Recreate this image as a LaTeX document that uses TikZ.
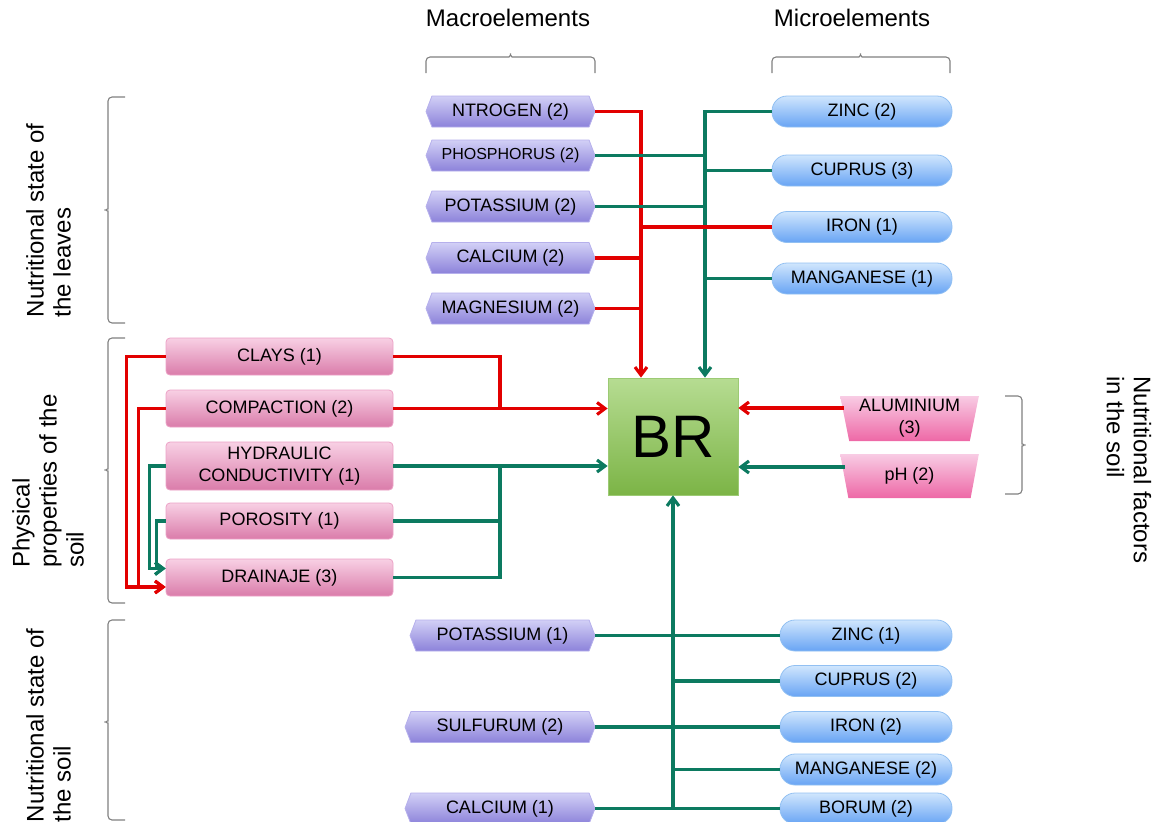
\documentclass[tikz,border=0pt]{standalone}
\usepackage{fontspec}
\setmainfont{Liberation Sans}
\usetikzlibrary{shapes.symbols,shapes.geometric,arrows.meta,calc}

\definecolor{linkred}{RGB}{226,0,0}
\definecolor{linkgreen}{RGB}{12,122,96}
\definecolor{macroT}{RGB}{210,208,246}
\definecolor{macroB}{RGB}{140,130,218}
\definecolor{macroD}{RGB}{182,176,236}
\definecolor{microT}{RGB}{208,230,253}
\definecolor{microB}{RGB}{104,164,244}
\definecolor{microD}{RGB}{146,192,242}
\definecolor{soilT}{RGB}{248,208,228}
\definecolor{soilB}{RGB}{218,124,170}
\definecolor{soilD}{RGB}{236,162,198}
\definecolor{trapT}{RGB}{248,204,228}
\definecolor{trapB}{RGB}{238,104,166}
\definecolor{brT}{RGB}{182,220,146}
\definecolor{brB}{RGB}{124,180,70}
\definecolor{brD}{RGB}{156,202,116}
\definecolor{braceC}{RGB}{128,128,128}

\begin{document}
\begin{tikzpicture}[x=1pt,y=-1pt,
  txt/.style={font=\fontsize{18}{22}\selectfont, text=black, align=center},
  macro/.style={txt, shape=signal, signal to=west and east, signal pointer angle=138,
    minimum height=31pt, inner sep=0pt, top color=macroT, bottom color=macroB,
    draw=macroD, line width=0.8pt},
  micro/.style={txt, rectangle, rounded corners=15pt, minimum height=31pt, inner sep=0pt,
    top color=microT, bottom color=microB, draw=microD, line width=0.8pt},
  soilbox/.style={txt, rectangle, rounded corners=4pt, minimum width=227pt, inner sep=0pt,
    top color=soilT, bottom color=soilB, draw=soilD, line width=0.8pt},
  trapbox/.style={txt, trapezium, trapezium left angle=101.3, trapezium right angle=101.3,
    trapezium stretches=true, minimum width=139pt, inner sep=0pt,
    top color=trapT, bottom color=trapB, draw=none},
  brbox/.style={rectangle, minimum width=130pt, minimum height=117pt, inner sep=0pt,
    top color=brT, bottom color=brB, draw=brD, line width=0.8pt,
    font=\fontsize{60}{60}\selectfont},
  heading/.style={font=\fontsize{24}{27}\selectfont, text=black, align=left, inner sep=0pt},
  brace/.style={draw=braceC, line width=1.1pt, rounded corners=4pt},
  link/.style={line width=3.1pt},
  redlink/.style={link, draw=linkred},
  greenlink/.style={link, draw=linkgreen},
  tip/.style={-{Straight Barb[length=8pt,width=12pt]}}
]
\useasboundingbox (0,0) rectangle (1165,822);
\clip (0,0) rectangle (1165,822);

% ---- headings and group labels
\node[heading] (hdmacro) at (508,18) {Macroelements};
\node[heading] (hdmicro) at (852,18) {Microelements};
\node[heading, rotate=90] (lbleaves) at (48.5,220.5) {Nutritional state of\\the leaves};
\node[heading, rotate=90] (lbphys) at (48,481) {Physical\\properties of the\\soil};
\node[heading, rotate=90] (lbsoil) at (48.5,725.5) {Nutritional state of\\the soil};
\node[heading, rotate=-90] (lbfactors) at (1129,470) {Nutritional factors\\in the soil};

% ---- braces
\draw[brace] (426,73) -- (426,57) -- (505,57) .. controls (509,57) and (510.5,55) .. (510.5,51)
  .. controls (510.5,55) and (512,57) .. (516,57) -- (595,57) -- (595,73);
\draw[brace] (772,73) -- (772,57) -- (855,57) .. controls (859,57) and (860.5,55) .. (860.5,51)
  .. controls (860.5,55) and (862,57) .. (866,57) -- (950,57) -- (950,73);
\draw[brace] (125,97) -- (108,97) -- (108,205) .. controls (108,208) and (106,210) .. (102,210)
  .. controls (106,210) and (108,212) .. (108,215) -- (108,323) -- (125,323);
\draw[brace] (125,338) -- (108,338) -- (108,465) .. controls (108,468) and (106,470) .. (102,470)
  .. controls (106,470) and (108,472) .. (108,475) -- (108,603) -- (125,603);
\draw[brace] (125,620) -- (108,620) -- (108,717) .. controls (108,720) and (106,722) .. (102,722)
  .. controls (106,722) and (108,724) .. (108,727) -- (108,820) -- (125,820);
\draw[brace] (1005,396) -- (1022,396) -- (1022,440) .. controls (1022,443) and (1024,445) .. (1028,445)
  .. controls (1024,445) and (1022,447) .. (1022,450) -- (1022,494) -- (1005,494);

% ---- centre
\node[brbox] (BR) at (673,436.5) {BR};

% ---- leaf macroelements
\node[macro, minimum width=169pt] (n1) at (510.5,111.5) {NTROGEN (2)};
\node[macro, minimum width=169pt, font=\fontsize{16}{20}\selectfont] (n2) at (510.5,155.5) {PHOSPHORUS (2)};
\node[macro, minimum width=169pt] (n3) at (510.5,206.5) {POTASSIUM (2)};
\node[macro, minimum width=169pt] (n4) at (510.5,258) {CALCIUM (2)};
\node[macro, minimum width=169pt] (n5) at (510.5,308.5) {MAGNESIUM (2)};

% ---- leaf microelements
\node[micro, minimum width=180pt] (m1) at (862,111.5) {ZINC (2)};
\node[micro, minimum width=180pt] (m2) at (862,170.5) {CUPRUS (3)};
\node[micro, minimum width=180pt] (m3) at (862,227) {IRON (1)};
\node[micro, minimum width=180pt] (m4) at (862,278.5) {MANGANESE (1)};

% ---- physical properties
\node[soilbox, minimum height=37pt] (s1) at (279.5,356.5) {CLAYS (1)};
\node[soilbox, minimum height=37pt] (s2) at (279.5,408.5) {COMPACTION (2)};
\node[soilbox, minimum height=48pt] (s3) at (279.5,466) {HYDRAULIC\\CONDUCTIVITY (1)};
\node[soilbox, minimum height=36pt] (s4) at (279.5,521) {POROSITY (1)};
\node[soilbox, minimum height=37pt] (s5) at (279.5,577.5) {DRAINAJE (3)};

% ---- soil factors
\node[trapbox, minimum height=45pt] (t1) at (909.5,418.5) {ALUMINIUM\\(3)};
\node[trapbox, minimum height=44pt] (t2) at (909.5,476) {pH (2)};

% ---- soil macroelements
\node[macro, minimum width=185pt] (b1) at (502.5,635.5) {POTASSIUM (1)};
\node[macro, minimum width=190pt] (b2) at (500,727) {SULFURUM (2)};
\node[macro, minimum width=190pt] (b3) at (500,808.5) {CALCIUM (1)};

% ---- soil microelements
\node[micro, minimum width=172pt] (c1) at (866,635.5) {ZINC (1)};
\node[micro, minimum width=172pt] (c2) at (866,681) {CUPRUS (2)};
\node[micro, minimum width=172pt] (c3) at (866,727) {IRON (2)};
\node[micro, minimum width=172pt] (c4) at (866,769.5) {MANGANESE (2)};
\node[micro, minimum width=172pt] (c5) at (866,808.5) {BORUM (2)};

% ---- bus lines
\coordinate (rbus) at (641,0);
\coordinate (gbus) at (705,0);
\coordinate (lbus) at (500,0);

% top: red bus
\draw[redlink, tip] (n1.east) -| (rbus |- BR.north);
\draw[redlink] (n4.east) -- (n4.east -| rbus);
\draw[redlink] (n5.east) -- (n5.east -| rbus);
% top: green bus
\draw[greenlink, tip] (m1.west) -| (gbus |- BR.north);
\draw[greenlink] (n2.east) -- (n2.east -| gbus);
\draw[greenlink] (n3.east) -- (n3.east -| gbus);
\draw[greenlink] (m2.west) -- (m2.west -| gbus);
\draw[greenlink] (m4.west) -- (m4.west -| gbus);
\draw[redlink] (m3.west) -- (m3.west -| rbus);

% left: physical properties
\draw[redlink] (s1.east) -| (lbus |- s2.east);
\draw[redlink, tip] (s2.east) -- (s2.east -| BR.west);
\draw[greenlink, tip] (s3.east) -- (s3.east -| BR.west);
\draw[greenlink] (s5.east) -| (lbus |- s3.east);
\draw[greenlink] (s4.east) -- (s4.east -| lbus);

\coordinate (rl) at ($(s5.west)+(0,9.5)$);
\coordinate (gl) at ($(s5.west)+(0,-9)$);
\draw[redlink, tip] (s1.west) -- ++(-39,0) |- (rl);
\draw[redlink, tip] (s2.west) -- ++(-27,0) |- (rl);
\draw[greenlink, tip] (s3.west) -- ++(-16,0) |- (gl);
\draw[greenlink, tip] (s4.west) -- ++(-9,0) |- (gl);

% right: soil factors
\coordinate (ta) at ($(t1.center)+(-66,-10.5)$);
\coordinate (tb) at ($(t2.center)+(-65,-9)$);
\draw[redlink, tip] (ta) -- (ta -| BR.east);
\draw[greenlink, tip] (tb) -- (tb -| BR.east);

% bottom: soil nutrients
\draw[greenlink] (b1.east) -- (c1.west);
\draw[greenlink] (b2.east) -- (c3.west);
\draw[greenlink] (b3.east) -- (c5.west);
\draw[greenlink] (c2.west) -- (c2.west -| BR.south);
\draw[greenlink] (c4.west) -- (c4.west -| BR.south);
\draw[greenlink, tip] (BR.south |- b3.east) -- (BR.south);

\end{tikzpicture}
\end{document}
